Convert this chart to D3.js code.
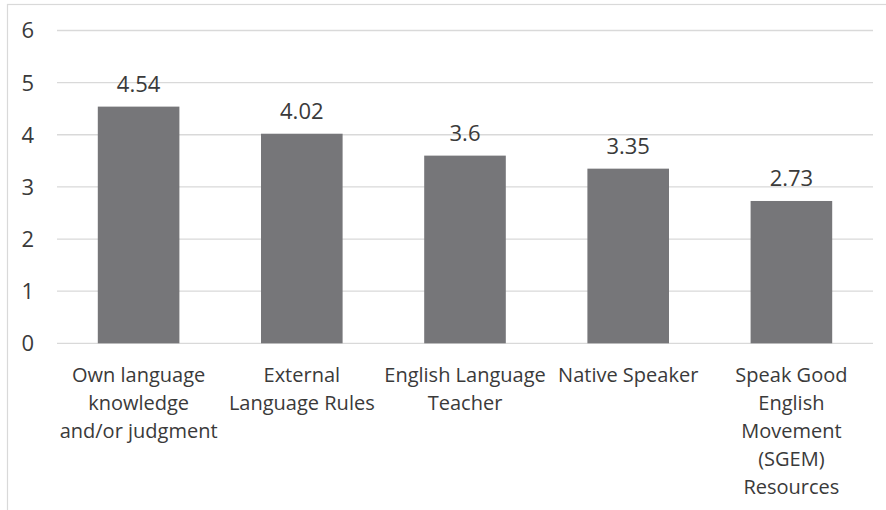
<!DOCTYPE html>
<html><head><meta charset="utf-8">
<script src="https://cdn.jsdelivr.net/npm/d3@7"></script>
<style>body{margin:0;background:#fff}svg{display:block}</style>
</head><body>
<svg id="c" width="886" height="510"></svg>
<script>
const categories = [
  ["Own language","knowledge","and/or judgment"],
  ["External","Language Rules"],
  ["English Language","Teacher"],
  ["Native Speaker"],
  ["Speak Good","English","Movement","(SGEM)","Resources"]
];
const values = [4.54, 4.02, 3.6, 3.35, 2.73];
const valueLabels = ["4.54","4.02","3.6","3.35","2.73"];
const yTicks = [0,1,2,3,4,5,6];

const svg = d3.select("#c");
const font = "'Open Sans', sans-serif";
const textColor = "#3a3a3a";

// frame
svg.append("rect").attr("x",7.5).attr("y",4.5).attr("width",900).attr("height",600)
  .attr("fill","none").attr("stroke","#d9d9d9").attr("stroke-width",1.2);

const x = d3.scaleBand().domain(d3.range(categories.length)).range([57,873]).paddingInner(0.5).paddingOuter(0.25);
const y = d3.scaleLinear().domain([0,6]).range([343.3,30.5]);

// gridlines
svg.append("g").selectAll("line").data(yTicks).join("line")
  .attr("x1",57).attr("x2",873)
  .attr("y1",d=>y(d)).attr("y2",d=>y(d))
  .attr("stroke","#d9d9d9").attr("stroke-width",1.3);

// y tick labels
svg.append("g").selectAll("text").data(yTicks).join("text")
  .attr("x",34).attr("y",d=>y(d)).attr("dy","0.36em")
  .attr("text-anchor","end").attr("font-family",font).attr("font-size",22)
  .attr("fill",textColor).text(d=>d);

// bars
svg.append("g").selectAll("rect").data(values).join("rect")
  .attr("x",(d,i)=>x(i)).attr("width",x.bandwidth())
  .attr("y",d=>y(d)).attr("height",d=>y(0)-y(d))
  .attr("fill","#767679");

// value labels
svg.append("g").selectAll("text").data(values).join("text")
  .attr("x",(d,i)=>x(i)+x.bandwidth()/2).attr("y",d=>y(d)-15)
  .attr("text-anchor","middle").attr("font-family",font).attr("font-size",22)
  .attr("fill",textColor).text((d,i)=>valueLabels[i]);

// category labels
const cg = svg.append("g").selectAll("text").data(categories).join("text")
  .attr("text-anchor","middle").attr("font-family",font).attr("font-size",20)
  .attr("fill",textColor)
  .attr("transform",(d,i)=>`translate(${x(i)+x.bandwidth()/2},382)`);
cg.selectAll("tspan").data(d=>d).join("tspan")
  .attr("x",0).attr("y",(d,j)=>j*28).text(d=>d);
</script>
</body></html>
